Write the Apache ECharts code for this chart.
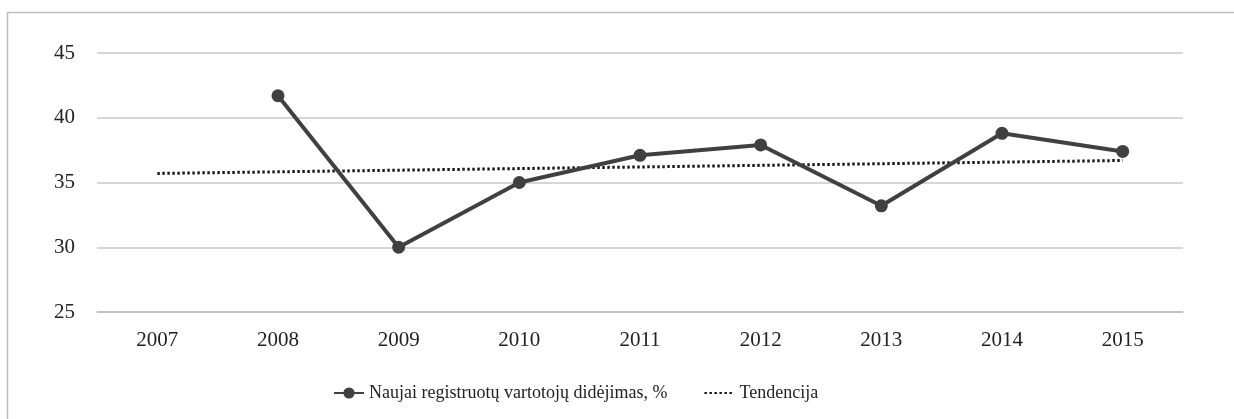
<!DOCTYPE html>
<html><head><meta charset="utf-8">
<script src="https://cdn.jsdelivr.net/npm/echarts@6/dist/echarts.min.js"></script>
<style>html,body{margin:0;padding:0;background:#fff}#c{width:1234px;height:419px}</style>
</head><body><div id="c"></div>
<script>
const years = ['2007','2008','2009','2010','2011','2012','2013','2014','2015'];
const growth = [null, 41.7, 30.0, 35.0, 37.1, 37.9, 33.2, 38.8, 37.4];
const trend = [35.7, null, null, null, null, null, null, null, 36.7];
const seriesNames = ['Naujai registruotų vartotojų didėjimas, %', 'Tendencija'];

const font = 'Liberation Serif';
const chart = echarts.init(document.getElementById('c'));
chart.setOption({
  animation: false,
  textStyle: {fontFamily: font},
  graphic: [{type: 'rect', shape: {x: 7.5, y: 12.5, width: 1240, height: 420},
    style: {fill: 'none', stroke: '#bdbdbd', lineWidth: 1.5}, silent: true}],
  grid: {left: 97, right: 51, top: 53, bottom: 107},
  legend: {
    left: 328, top: 379, itemGap: 36, itemWidth: 30, itemHeight: 14,
    textStyle: {fontFamily: font, fontSize: 18, color: '#222'},
    data: [
      {name: seriesNames[0]},
      {name: seriesNames[1], itemStyle: {opacity: 0}}
    ]
  },
  xAxis: {
    type: 'category', data: years, boundaryGap: true,
    axisLine: {lineStyle: {color: '#bdbdbd', width: 1.5}},
    axisTick: {inside: true, length: 5, alignWithLabel: true, lineStyle: {color: '#bdbdbd'}},
    axisLabel: {fontFamily: font, fontSize: 21, color: '#222', margin: 18}
  },
  yAxis: {
    type: 'value', min: 25, max: 45, interval: 5,
    axisLine: {show: false}, axisTick: {show: false},
    axisLabel: {fontFamily: font, fontSize: 21, color: '#222', margin: 22},
    splitLine: {lineStyle: {color: '#c8c8c8', width: 1.5}}
  },
  series: [
    {name: seriesNames[0], type: 'line', data: growth, symbol: 'circle', symbolSize: 13,
     lineStyle: {color: '#404040', width: 4}, itemStyle: {color: '#404040'}, z: 3},
    {name: seriesNames[1], type: 'line', data: trend, connectNulls: true, symbol: 'none',
     lineStyle: {color: '#1a1a1a', width: 3, type: [2.5, 2.5]}, itemStyle: {color: '#1a1a1a'}, z: 2}
  ]
});
</script></body></html>
